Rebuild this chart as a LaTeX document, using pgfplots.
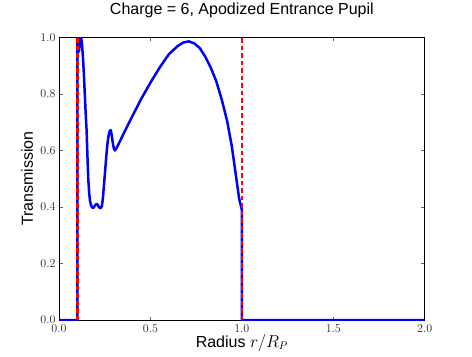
\documentclass[border=0pt]{standalone}
\usepackage{fontspec}
\setmainfont{Liberation Sans}
\usepackage{pgfplots}
\pgfplotsset{compat=1.18}
\begin{document}
\begin{tikzpicture}
\begin{axis}[
  scale only axis,
  width=365.7pt, height=282.6pt,
  xmin=0, xmax=2, ymin=0, ymax=1,
  xtick={0,0.5,1,1.5,2},
  ytick={0,0.2,0.4,0.6,0.8,1.0},
  /pgf/number format/fixed,
  /pgf/number format/fixed zerofill,
  /pgf/number format/precision=1,
  tick label style={font=\fontsize{12}{14}\selectfont, text=black!85},
  xticklabel style={yshift=-1pt},
  tick align=inside, tick pos=both,
  major tick length=3.5pt,
  tick style={black!60, line width=0.6pt},
  axis line style={black, line width=0.8pt},
  title={Charge = 6, Apodized Entrance Pupil},
  title style={font=\fontsize{16}{19}\selectfont, at={(axis description cs:0.5,1)}, anchor=base, yshift=16.5pt},
  xlabel={Radius $r/R_P$},
  xlabel style={font=\fontsize{16}{19}\selectfont, at={(axis description cs:0.5,0)}, anchor=base, yshift=-27pt},
  ylabel={Transmission},
  every axis y label/.style={at={(axis description cs:-0.0874,0.5)}, rotate=90, anchor=center, font=\fontsize{16}{19}\selectfont},
]
\addplot[blue, line width=2.5pt, line join=round] coordinates {
(0,0) (0.1,0) (0.1,0.99) (0.103,1.0) (0.106,0.97) (0.109,0.95) (0.113,0.975) (0.117,0.995) (0.121,1.0)
(0.126,0.975) (0.131,0.93) (0.136,0.87) (0.141,0.80) (0.146,0.73) (0.151,0.67)
(0.155,0.59) (0.160,0.50) (0.165,0.45) (0.170,0.42) (0.176,0.405) (0.182,0.398) (0.188,0.397)
(0.194,0.402) (0.200,0.408) (0.206,0.411) (0.212,0.408) (0.218,0.400) (0.224,0.396) (0.230,0.397)
(0.235,0.405) (0.240,0.43) (0.245,0.47) (0.250,0.51) (0.255,0.55) (0.260,0.59) (0.266,0.63)
(0.272,0.655) (0.278,0.670) (0.283,0.672) (0.288,0.655) (0.294,0.628) (0.300,0.607) (0.306,0.600)
(0.32,0.615) (0.35,0.655) (0.40,0.720) (0.45,0.783) (0.50,0.840) (0.55,0.893) (0.60,0.940)
(0.65,0.970) (0.68,0.982) (0.71,0.986) (0.74,0.979) (0.77,0.962) (0.80,0.932) (0.83,0.893)
(0.86,0.845) (0.89,0.780) (0.92,0.703) (0.945,0.615) (0.97,0.500) (0.985,0.430) (1.0,0.39)
(1.0,0) (2,0)
};
\addplot[red, line width=2.5pt, dash pattern=on 4.5pt off 3pt] coordinates {(0.1,0) (0.1,1)};
\addplot[red, line width=2.5pt, dash pattern=on 4.5pt off 3pt] coordinates {(1.0,0) (1.0,1)};
\end{axis}
\path ([xshift=-59pt,yshift=-36.7pt]current axis.south west) rectangle ([xshift=47.3pt,yshift=34.7pt]current axis.north east);
\end{tikzpicture}
\end{document}
